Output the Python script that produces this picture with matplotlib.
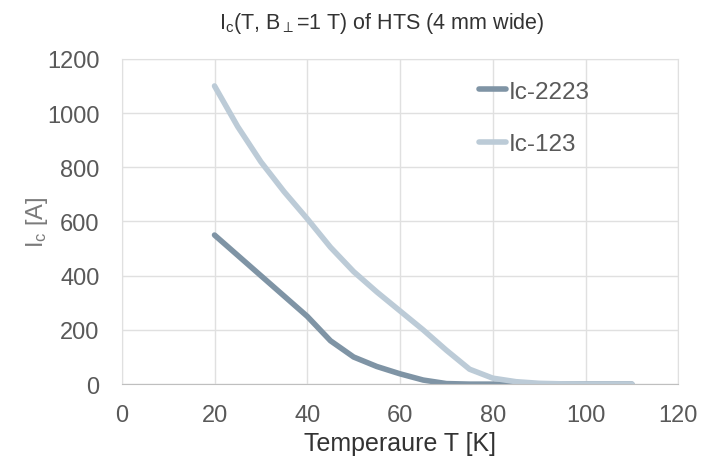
import numpy as np
import matplotlib.pyplot as plt

plt.rcParams['font.family'] = ['Liberation Sans', 'DejaVu Sans']
plt.rcParams['mathtext.fontset'] = 'custom'
plt.rcParams['mathtext.rm'] = 'Liberation Sans'
plt.rcParams['mathtext.it'] = 'Liberation Sans'

# temperature [K]
temp = [20, 25, 30, 35, 40, 45, 50, 55, 60, 65, 70, 75, 80, 85, 90, 95, 100, 105, 110]
# critical current [A]
ic_2223 = [550, 475, 400, 325, 250, 160, 100, 65, 38, 15, 2, 0, 0, 0, 0, 0, 0, 0, 0]
ic_123 = [1100, 950, 820, 710, 610, 505, 415, 340, 270, 200, 125, 55, 22, 9, 3, 1, 0, 0, 0]

fig = plt.figure(figsize=(7.08, 4.64), dpi=100)
ax = fig.add_axes([0.172, 0.170, 0.786, 0.701])

ax.plot(temp, ic_2223, color='#7f94a5', lw=4, label='Ic-2223', solid_capstyle='round')
ax.plot(temp, ic_123, color='#bccbd7', lw=4, label='Ic-123', solid_capstyle='round')

ax.set_xlim(0, 120)
ax.set_ylim(0, 1200)
ax.set_xticks(np.arange(0, 121, 20))
ax.set_yticks(np.arange(0, 1201, 200))
ax.grid(True, color='#e0e0e0', lw=1)
ax.set_axisbelow(True)
for s in ['top', 'right', 'left']:
    ax.spines[s].set_color('#e0e0e0')
ax.spines['bottom'].set_color('#bfbfbf')
ax.tick_params(length=0, labelsize=17, colors='#595959')
ax.tick_params(axis='x', pad=14)
ax.tick_params(axis='y', pad=16)

ax.set_xlabel('Temperaure T [K]', fontsize=18, color='#333333', labelpad=4)
ax.set_ylabel('I$_\\mathregular{c}$ [A]', fontsize=17, color='#7a7a7a', labelpad=-2)
ax.set_title('I$_\\mathregular{c}$(T, B$_\\perp$=1 T) of HTS (4 mm wide)', fontsize=15.5,
             color='#333333', pad=22, x=0.468)

leg = ax.legend(loc='upper right', bbox_to_anchor=(0.88, 1.0), frameon=False, fontsize=17.5,
                handlelength=1.1, handletextpad=0.1, labelspacing=1.25)
for t in leg.get_texts():
    t.set_color('#595959')

fig.savefig('out.png', dpi=100)
